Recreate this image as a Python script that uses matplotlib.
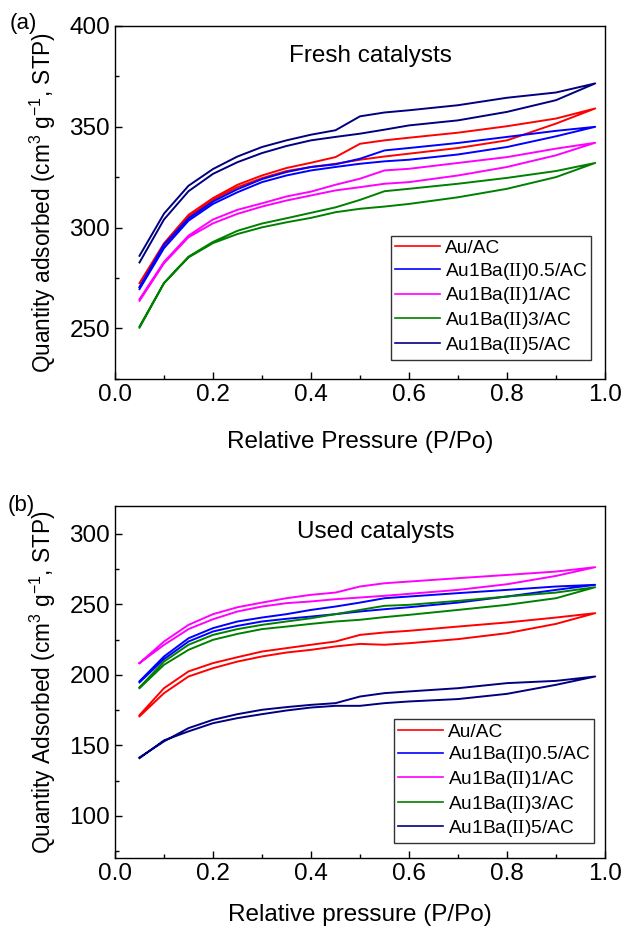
import matplotlib
matplotlib.use("Agg")
import matplotlib.pyplot as plt
from matplotlib.ticker import MultipleLocator

plt.rcParams["font.family"] = ["Liberation Sans", "DejaVu Sans"]
plt.rcParams["mathtext.fontset"] = "custom"
plt.rcParams["mathtext.rm"] = "Liberation Serif"
plt.rcParams["mathtext.default"] = "regular"

# relative pressure points (adsorption goes up, desorption comes back down)
P = [0.05, 0.10, 0.15, 0.20, 0.25, 0.30, 0.35, 0.40, 0.45, 0.50, 0.55, 0.60,
     0.70, 0.80, 0.90, 0.98]

LABELS = ["Au/AC", r"Au1Ba($\mathrm{II}$)0.5/AC", r"Au1Ba($\mathrm{II}$)1/AC",
          r"Au1Ba($\mathrm{II}$)3/AC", r"Au1Ba($\mathrm{II}$)5/AC"]
COLORS = ["#ff0000", "#0000ff", "#ff00ff", "#008000", "#000080"]

# (a) fresh catalysts
fresh_au_ads = [270.5, 290.2, 305.2, 313.7, 320.0, 324.5, 328.0, 330.0, 331.6, 333.6,
                335.2, 336.6, 339.4, 343.2, 351.5, 359.0]
fresh_au_des = [272.5, 292.2, 306.3, 314.6, 321.2, 325.8, 329.5, 332.1, 334.9, 341.5,
                343.2, 344.5, 347.0, 350.2, 354.0, 359.0]
fresh_ba05_ads = [269.5, 289.8, 303.4, 311.7, 317.5, 322.5, 325.8, 328.3, 330.0, 331.6,
                  332.8, 333.6, 336.2, 339.9, 345.2, 349.9]
fresh_ba05_des = [270.5, 291.6, 304.6, 312.9, 319.0, 324.0, 327.5, 330.0, 331.3, 334.1,
                  338.2, 339.4, 341.9, 344.9, 347.9, 349.9]
fresh_ba1_ads = [263.7, 282.3, 295.2, 302.1, 306.8, 310.4, 313.4, 315.9, 318.4, 320.0,
                 321.7, 322.5, 325.8, 330.0, 335.8, 342.0]
fresh_ba1_des = [264.5, 283.0, 296.0, 304.0, 308.8, 312.0, 315.4, 317.8, 321.2, 324.2,
                 328.3, 329.1, 332.0, 334.9, 339.1, 342.0]
fresh_ba3_ads = [250.4, 272.4, 285.2, 292.3, 296.8, 300.1, 302.6, 304.8, 307.6, 309.3,
                 310.4, 311.7, 315.0, 319.2, 325.0, 332.0]
fresh_ba3_des = [251.0, 272.6, 285.6, 292.9, 298.4, 302.0, 304.6, 307.3, 310.0, 313.7,
                 318.0, 319.2, 321.7, 324.6, 328.0, 332.0]
fresh_ba5_ads = [282.7, 304.0, 318.0, 326.6, 332.4, 336.9, 340.4, 343.2, 344.9, 346.5,
                 348.5, 350.6, 353.1, 357.3, 363.1, 371.4]
fresh_ba5_des = [286.0, 306.9, 320.7, 329.0, 335.2, 339.9, 343.2, 346.0, 348.2, 355.1,
                 357.0, 358.1, 360.6, 364.3, 366.9, 371.4]

# (b) used catalysts
used_au_ads = [170.6, 187.1, 198.9, 204.8, 209.5, 213.1, 215.9, 217.8, 220.2, 222.0,
               221.4, 222.5, 225.4, 229.6, 236.2, 243.8]
used_au_des = [171.5, 190.6, 202.5, 208.4, 212.6, 216.6, 219.0, 221.4, 223.7, 228.4,
               230.1, 231.3, 234.3, 237.2, 240.7, 243.8]
used_ba05_ads = [194.7, 211.2, 223.7, 230.8, 234.8, 237.9, 239.8, 241.4, 243.1, 245.0,
                 246.6, 248.0, 251.3, 255.6, 260.3, 263.9]
used_ba05_des = [195.5, 213.1, 226.0, 233.2, 237.9, 240.7, 243.1, 246.1, 248.5, 251.3,
                 254.4, 255.6, 258.0, 260.3, 262.7, 263.9]
used_ba1_ads = [208.4, 221.3, 232.5, 239.5, 245.0, 248.5, 250.9, 252.1, 253.7, 254.9,
                256.1, 257.5, 260.3, 264.3, 270.2, 276.4]
used_ba1_des = [208.4, 223.7, 235.5, 243.1, 248.0, 251.3, 254.4, 256.8, 258.4, 262.7,
                265.0, 266.2, 268.6, 270.9, 273.3, 276.4]
used_ba3_ads = [190.6, 207.2, 217.8, 224.9, 229.1, 232.5, 234.3, 236.2, 237.9, 239.1,
                241.0, 242.6, 246.1, 249.7, 254.4, 262.2]
used_ba3_des = [191.2, 209.5, 221.4, 228.4, 232.5, 235.5, 237.9, 240.2, 243.1, 246.1,
                249.0, 249.7, 252.5, 255.6, 258.4, 262.2]
used_ba5_ads = [141.0, 153.6, 160.0, 165.8, 169.4, 172.2, 174.8, 176.9, 178.1, 178.1,
                180.0, 181.2, 182.9, 186.6, 193.0, 198.9]
used_ba5_des = [141.5, 152.9, 162.3, 168.2, 172.2, 175.3, 177.2, 178.8, 180.0, 184.7,
                187.1, 188.3, 190.6, 194.2, 195.8, 198.9]

fresh = [(fresh_au_ads, fresh_au_des), (fresh_ba05_ads, fresh_ba05_des),
         (fresh_ba1_ads, fresh_ba1_des), (fresh_ba3_ads, fresh_ba3_des),
         (fresh_ba5_ads, fresh_ba5_des)]
used = [(used_au_ads, used_au_des), (used_ba05_ads, used_ba05_des),
        (used_ba1_ads, used_ba1_des), (used_ba3_ads, used_ba3_des),
        (used_ba5_ads, used_ba5_des)]

FS = 17.5  # axis text size


def isotherm_panel(ax, series, ylim, title, title_xy, xlabel, xpad, ylabel,
                   legend_box):
    for (ads, des), color, label in zip(series, COLORS, LABELS):
        # adsorption branch out, desorption branch back
        ax.plot(P + P[::-1], ads + des[::-1], color=color, lw=1.4, label=label)

    ax.set_xlim(0, 1.0)
    ax.set_ylim(*ylim)
    ax.xaxis.set_major_locator(MultipleLocator(0.2))
    ax.xaxis.set_minor_locator(MultipleLocator(0.1))
    ax.yaxis.set_major_locator(MultipleLocator(50))
    ax.yaxis.set_minor_locator(MultipleLocator(25))
    ax.xaxis.set_major_formatter(plt.FormatStrFormatter("%.1f"))
    ax.tick_params(which="both", direction="in", top=False, right=False,
                   labelsize=FS, width=1)
    ax.tick_params(which="major", length=5)
    ax.tick_params(which="minor", length=3)
    for s in ax.spines.values():
        s.set_linewidth(1.0)

    ax.set_xlabel(xlabel, fontsize=FS, labelpad=xpad)
    ax.set_ylabel(ylabel, fontsize=16.3, labelpad=8)
    ax.text(title_xy[0], title_xy[1], title, transform=ax.transAxes,
            ha="center", va="center", fontsize=FS)

    leg = ax.legend(loc="upper left", bbox_to_anchor=legend_box, fontsize=13.8,
                    frameon=True, fancybox=False, edgecolor="black",
                    handlelength=2.35, handletextpad=0.26, labelspacing=0.19,
                    borderpad=0.2, borderaxespad=0)
    leg.get_frame().set_linewidth(1.0)
    for line in leg.get_lines():
        line.set_linewidth(1.2)


fig = plt.figure(figsize=(6.22, 9.27), dpi=100)
ax_a = fig.add_axes([0.1849, 0.5912, 0.7878, 0.3811])
ax_b = fig.add_axes([0.1849, 0.0741, 0.7878, 0.3804])

isotherm_panel(ax_a, fresh, (225, 400), "Fresh catalysts", (0.522, 0.915),
               "Relative Pressure (P/Po)", 18,
               "Quantity adsorbed (cm$^{3}$ g$^{-1}$, STP)", (0.563, 0.405))
isotherm_panel(ax_b, used, (70, 320), "Used catalysts", (0.532, 0.926),
               "Relative pressure (P/Po)", 13.5,
               "Quantity Adsorbed (cm$^{3}$ g$^{-1}$, STP)", (0.569, 0.394))

fig.text(23 / 622, 1 - 24 / 927, "(a)", ha="center", va="center", fontsize=16)
fig.text(21 / 622, 1 - 505 / 927, "(b)", ha="center", va="center", fontsize=16)

fig.savefig("out.png", dpi=100)
